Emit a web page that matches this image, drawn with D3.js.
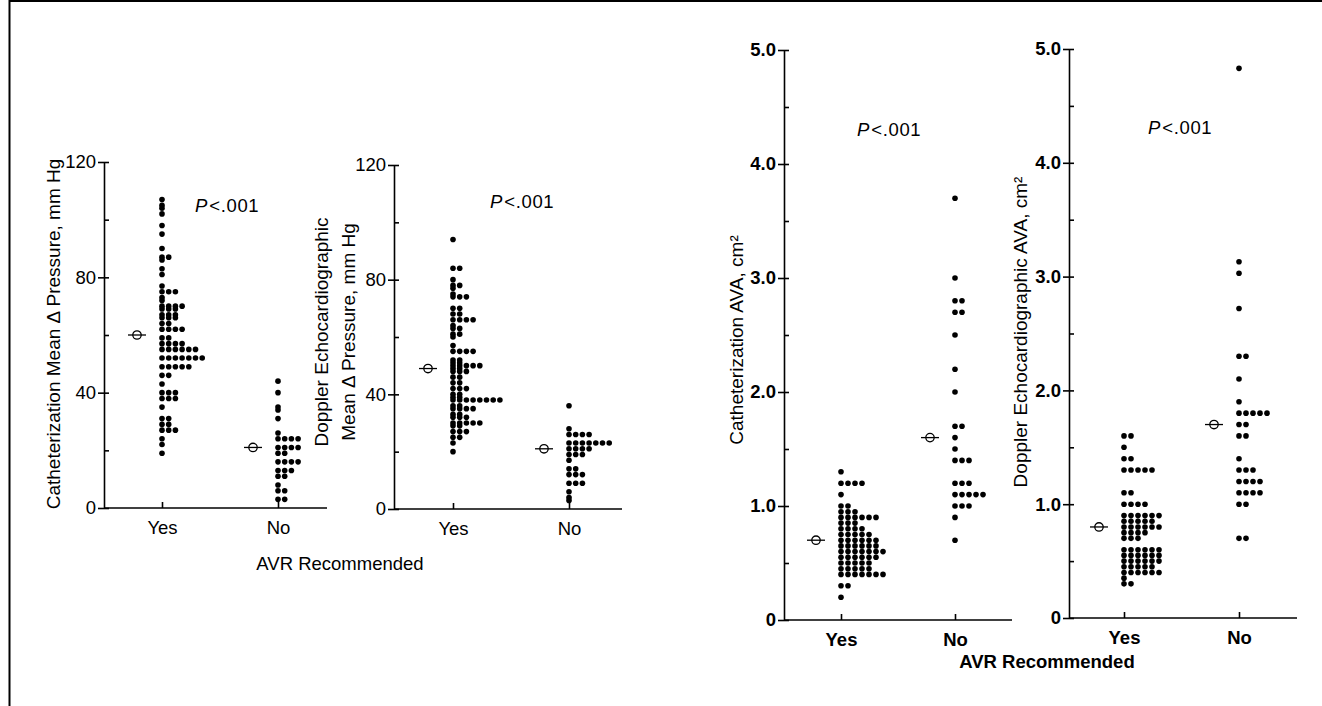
<!DOCTYPE html>
<html>
  <head>
    <meta charset="utf-8">
    <style>
      body { margin: 0; background: #fff; }
      svg { display: block; font-family: "Liberation Sans", Arial, Helvetica, sans-serif; }
    </style>
  </head>
  <body>
    <script src="https://cdn.jsdelivr.net/npm/d3@7"></script>
    <script>
// categories on every x axis
var cats = ['Yes', 'No'];

// catheterization mean gradient, mm Hg
var catPressYes = [107, 105, 104, 102, 98, 95, 90, 87, 87, 86, 83, 81, 77,
  75, 75, 75, 73, 72, 70, 70, 70, 70, 69, 69, 69, 67, 67, 67, 66, 66, 66, 64, 64,
  62, 62, 62, 62, 59, 59, 57, 57, 57, 57, 55, 55, 55, 55, 55, 55,
  52, 52, 52, 52, 52, 52, 52, 49, 49, 49, 49, 49, 46, 46, 43, 40, 40, 40,
  38, 38, 38, 35, 31, 31, 29, 29, 27, 27, 27, 24, 22, 19];
var catPressNo = [44, 40, 35, 34, 31, 26, 24, 24, 24, 24, 21, 21, 21, 21, 19, 19,
  16, 16, 16, 16, 13, 13, 13, 11, 11, 8, 6, 6, 3, 3];

// doppler echo mean gradient, mm Hg
var dopPressYes = [94, 84, 84, 80, 78, 78, 77, 75, 74, 74, 74, 70, 70, 68, 68,
  66, 66, 66, 66, 64, 63, 63, 61, 61, 60, 57, 55, 55, 55, 55, 52, 52, 51, 51,
  50, 50, 50, 50, 50, 49, 49, 48, 48, 48, 46, 46, 44, 44, 42, 42, 42, 40, 40, 39, 39,
  38, 38, 38, 38, 38, 38, 38, 38, 36, 36, 35, 35, 35, 35, 33, 33, 32, 32, 32,
  30, 30, 30, 30, 30, 29, 29, 27, 27, 27, 25, 25, 23, 20];
var dopPressNo = [36, 28, 26, 26, 26, 26, 23, 23, 23, 23, 23, 23, 23, 21, 21, 21, 21,
  19, 19, 19, 17, 14, 14, 12, 12, 12, 9, 9, 9, 6, 4, 3];

// catheterization valve area, cm2
var catAvaYes = [1.3, 1.2, 1.2, 1.2, 1.2, 1.1, 1.0, 1.0, 0.95, 0.95, 0.95,
  0.9, 0.9, 0.9, 0.9, 0.9, 0.9, 0.85, 0.85, 0.85, 0.8, 0.8, 0.8, 0.8,
  0.75, 0.75, 0.75, 0.75, 0.75, 0.7, 0.7, 0.7, 0.7, 0.7, 0.7,
  0.65, 0.65, 0.65, 0.65, 0.65, 0.65, 0.6, 0.6, 0.6, 0.6, 0.6, 0.6, 0.6,
  0.55, 0.55, 0.55, 0.55, 0.55, 0.55, 0.5, 0.5, 0.5, 0.5, 0.5,
  0.45, 0.45, 0.45, 0.45, 0.45, 0.4, 0.4, 0.4, 0.4, 0.4, 0.4, 0.4, 0.3, 0.3, 0.2];
var catAvaNo = [3.7, 3.0, 2.8, 2.8, 2.7, 2.7, 2.5, 2.2, 2.0, 1.7, 1.7, 1.6, 1.5,
  1.4, 1.4, 1.4, 1.2, 1.2, 1.2, 1.1, 1.1, 1.1, 1.1, 1.1, 1.0, 1.0, 1.0, 0.9, 0.7];

// doppler echo valve area, cm2
var dopAvaYes = [1.6, 1.6, 1.5, 1.4, 1.4, 1.3, 1.3, 1.3, 1.3, 1.3, 1.1, 1.1,
  1.0, 1.0, 1.0, 1.0, 0.9, 0.9, 0.9, 0.9, 0.9, 0.9, 0.85, 0.85, 0.85, 0.85, 0.85,
  0.8, 0.8, 0.8, 0.8, 0.8, 0.8, 0.75, 0.75, 0.75, 0.75, 0.7, 0.7, 0.7,
  0.6, 0.6, 0.6, 0.6, 0.6, 0.6, 0.55, 0.55, 0.55, 0.55, 0.55, 0.55,
  0.5, 0.5, 0.5, 0.5, 0.5, 0.5, 0.45, 0.45, 0.45, 0.45, 0.45,
  0.4, 0.4, 0.4, 0.4, 0.4, 0.4, 0.35, 0.3, 0.3];
var dopAvaNo = [4.83, 3.13, 3.03, 2.72, 2.3, 2.3, 2.1, 1.9, 1.8, 1.8, 1.8, 1.8, 1.8,
  1.7, 1.7, 1.6, 1.6, 1.4, 1.3, 1.3, 1.3, 1.2, 1.2, 1.2, 1.2, 1.1, 1.1, 1.1, 1.1,
  1.0, 1.0, 0.7, 0.7];

// group means shown as open circles (Yes, No)
var catPressMeans = [60, 21];
var dopPressMeans = [49, 21];
var catAvaMeans = [0.7, 1.6];
var dopAvaMeans = [0.8, 1.7];

// y tick values
var pressTicks = [0, 40, 80, 120];
var pressMinor = [20, 60, 100];
var avaTicks = [0, 1, 2, 3, 4, 5];
var avaMinor = [0.5, 1.5, 2.5, 3.5, 4.5];

var pText = '<.001';
var xTitle = 'AVR Recommended';

var fmtPress = d3.format('d');
var fmtAva = d => d === 0 ? '0' : d3.format('.1f')(d);

var svg = d3.select('body').append('svg')
    .attr('width', 1322)
    .attr('height', 706);

// page frame
svg.append('line').attr('x1', 9.5).attr('x2', 9.5).attr('y1', 0).attr('y2', 706)
    .style('stroke', '#000').style('stroke-width', 2);
svg.append('line').attr('x1', 9).attr('x2', 1322).attr('y1', 1).attr('y2', 1)
    .style('stroke', '#000').style('stroke-width', 2);

// stack equal values side by side
function stack(values) {
  var seen = new Map();
  return values.map(v => {
    var k = v.toFixed(2);
    var i = seen.get(k) || 0;
    seen.set(k, i + 1);
    return {v: v, i: i};
  });
}

function drawPanel(p) {
  var g = svg.append('g');
  var y = d3.scaleLinear().domain(p.domain).range([p.bottom, p.top]);
  var x = d3.scalePoint().domain(cats).range([p.xYes, p.xNo]);

  // labelled major ticks, pointing out
  g.append('g')
      .attr('transform', 'translate(' + p.left + ',0)')
      .call(d3.axisLeft(y).tickValues(p.ticks).tickFormat(p.fmt)
        .tickSize(6).tickPadding(2).tickSizeOuter(0));
  // all ticks, pointing in
  g.append('g')
      .attr('transform', 'translate(' + p.left + ',0)')
      .call(d3.axisRight(y).tickValues(p.ticks.concat(p.minor)).tickFormat('')
        .tickSize(5).tickSizeOuter(0))
      .select('.domain').remove();

  var xAx = g.append('g')
      .attr('transform', 'translate(0,' + p.bottom + ')')
      .call(d3.axisBottom(x).tickSize(-6).tickPadding(13));
  xAx.select('.domain').remove();
  g.append('line')
      .attr('x1', p.left).attr('x2', p.right)
      .attr('y1', p.bottom).attr('y2', p.bottom)
      .style('stroke', '#000').style('stroke-width', 1.6);

  g.selectAll('.tick text')
      .attr('font-size', 18.5)
      .attr('font-family', '"Liberation Sans", Arial, sans-serif')
      .attr('font-weight', p.bold ? 'bold' : 'normal')
      .attr('fill', '#000');
  g.selectAll('.domain, .tick line').style('stroke', '#000').style('stroke-width', 1.6);

  // dots
  [p.yes, p.no].forEach((vals, ci) => {
    g.append('g').selectAll('circle')
      .data(stack(vals))
      .enter().append('circle')
        .attr('cx', d => x(cats[ci]) + d.i * p.dx)
        .attr('cy', d => y(d.v))
        .attr('r', 2.8)
        .style('fill', '#000');
  });

  // mean markers
  var m = g.append('g').selectAll('g')
      .data(p.means)
      .enter().append('g')
        .attr('transform', (d, i) => 'translate(' + (x(cats[i]) - 25) + ',' + y(d) + ')');
  m.append('line').attr('x1', -9).attr('x2', 9)
      .style('stroke', '#000').style('stroke-width', 1.3);
  m.append('circle').attr('r', 4.2)
      .style('fill', 'none').style('stroke', '#000').style('stroke-width', 1.3);

  // p value
  var pt = g.append('text')
      .attr('x', p.pX).attr('y', p.pY)
      .attr('font-size', 18.5);
  pt.append('tspan').attr('font-style', 'italic').text('P');
  pt.append('tspan').attr('dx', 2).attr('letter-spacing', 0.6).text(pText);

  // y title, one or two lines
  p.title.forEach((t, i) => {
    g.append('text')
        .attr('transform', 'translate(' + (p.titleX + i * 27) + ',' + p.titleY + ') rotate(-90)')
        .attr('text-anchor', 'middle')
        .attr('dy', '0.35em')
        .attr('font-size', 19)
        .text(t);
  });
}

drawPanel({
  yes: catPressYes, no: catPressNo, means: catPressMeans,
  domain: [0, 120], ticks: pressTicks, minor: pressMinor, fmt: fmtPress,
  left: 104, right: 327, top: 162, bottom: 508, xYes: 162, xNo: 278, dx: 6.7,
  pX: 195, pY: 212, title: ['Catheterization Mean \u0394 Pressure, mm Hg'], titleX: 53, titleY: 334
});
drawPanel({
  yes: dopPressYes, no: dopPressNo, means: dopPressMeans,
  domain: [0, 120], ticks: pressTicks, minor: pressMinor, fmt: fmtPress,
  left: 394, right: 622, top: 165, bottom: 509, xYes: 453, xNo: 569, dx: 6.7,
  pX: 490, pY: 208, title: ['Doppler Echocardiographic', 'Mean \u0394 Pressure, mm Hg'], titleX: 321, titleY: 332
});
drawPanel({
  yes: catAvaYes, no: catAvaNo, means: catAvaMeans,
  domain: [0, 5], ticks: avaTicks, minor: avaMinor, fmt: fmtAva, bold: true,
  left: 784, right: 1012, top: 50, bottom: 620, xYes: 841, xNo: 955, dx: 7,
  pX: 857, pY: 136, title: ['Catheterization AVA, cm\u00b2'], titleX: 736, titleY: 340
});
drawPanel({
  yes: dopAvaYes, no: dopAvaNo, means: dopAvaMeans,
  domain: [0, 5], ticks: avaTicks, minor: avaMinor, fmt: fmtAva, bold: true,
  left: 1069, right: 1297, top: 49, bottom: 618, xYes: 1124, xNo: 1239, dx: 7,
  pX: 1148, pY: 134, title: ['Doppler Echocardiographic AVA, cm\u00b2'], titleX: 1020, titleY: 332
});

// shared x titles
svg.append('text').attr('x', 340).attr('y', 570)
    .attr('text-anchor', 'middle').attr('font-size', 18.5).text(xTitle);
svg.append('text').attr('x', 1047).attr('y', 668)
    .attr('text-anchor', 'middle').attr('font-size', 18.5).attr('font-weight', 'bold').text(xTitle);
    </script>
  </body>
</html>
